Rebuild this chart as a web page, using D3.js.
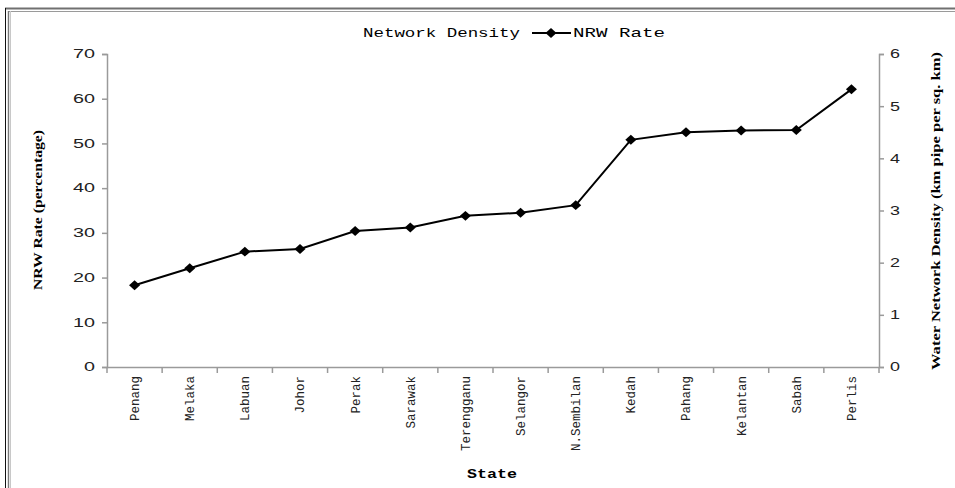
<!DOCTYPE html>
<html>
<head>
<meta charset="utf-8">
<script src="https://cdn.jsdelivr.net/npm/d3@7"></script>
<style>
  body { margin: 0; background: #fff; }
  svg { display: block; }
</style>
</head>
<body>
<div id="chart"></div>
<script>
// data
var states = ["Penang", "Melaka", "Labuan", "Johor", "Perak", "Sarawak", "Terengganu",
  "Selangor", "N.Sembilan", "Kedah", "Pahang", "Kelantan", "Sabah", "Perlis"];
var nrwRate = [18.3, 22.1, 25.8, 26.4, 30.4, 31.2, 33.8, 34.5, 36.2, 50.8, 52.5, 52.9, 53.0, 62.1];
var leftTicks = [0, 10, 20, 30, 40, 50, 60, 70];
var rightTicks = [0, 1, 2, 3, 4, 5, 6];

var W = 955, H = 488;
var plot = { left: 107, right: 879, top: 54, bottom: 367 };
var axisColor = '#9a9a9a';

var svg = d3.select('#chart').append('svg')
  .attr('width', W)
  .attr('height', H);

// frame (double line on top and left)
svg.append('line').attr('x1', 5).attr('y1', 8.5).attr('x2', W).attr('y2', 8.5)
  .attr('stroke', '#707070').attr('stroke-width', 2);
svg.append('line').attr('x1', 9).attr('y1', 11.5).attr('x2', W).attr('y2', 11.5)
  .attr('stroke', '#9a9a9a').attr('stroke-width', 1);
svg.append('line').attr('x1', 5.5).attr('y1', 8).attr('x2', 5.5).attr('y2', H)
  .attr('stroke', '#111').attr('stroke-width', 1);
svg.append('line').attr('x1', 8.5).attr('y1', 11).attr('x2', 8.5).attr('y2', H)
  .attr('stroke', '#777').attr('stroke-width', 1.4);
svg.append('line').attr('x1', 10.5).attr('y1', 11).attr('x2', 10.5).attr('y2', H)
  .attr('stroke', '#c8c8c8').attr('stroke-width', 1);

var x = d3.scaleBand()
  .domain(states)
  .range([plot.left, plot.right]);

var yLeft = d3.scaleLinear().domain([0, 70]).range([plot.bottom, plot.top]);
var yRight = d3.scaleLinear().domain([0, 6]).range([plot.bottom, plot.top]);

function styleAxis(g) {
  g.select('.domain').attr('stroke', axisColor).attr('stroke-width', 1.5);
  g.selectAll('.tick line').attr('stroke', axisColor).attr('stroke-width', 1.5);
}

// left axis
var gl = svg.append('g')
  .attr('transform', 'translate(' + plot.left + ',0)')
  .call(d3.axisLeft(yLeft).tickValues(leftTicks).tickFormat(d3.format('d'))
    .tickSizeOuter(0).tickSize(5).tickPadding(7));
styleAxis(gl);
gl.selectAll('.tick text')
  .attr('font-family', 'Liberation Sans')
  .attr('font-size', 12)
  .attr('fill', '#222')
  .attr('textLength', function(d){ return String(d).length * 11; })
  .attr('lengthAdjust', 'spacingAndGlyphs');

// right axis
var gr = svg.append('g')
  .attr('transform', 'translate(' + plot.right + ',0)')
  .call(d3.axisRight(yRight).tickValues(rightTicks).tickFormat(d3.format('d'))
    .tickSizeOuter(0).tickSize(5).tickPadding(6));
styleAxis(gr);
gr.selectAll('.tick text')
  .attr('font-family', 'Liberation Sans')
  .attr('font-size', 12)
  .attr('fill', '#222')
  .attr('textLength', 10)
  .attr('lengthAdjust', 'spacingAndGlyphs');

// bottom axis: ticks at band boundaries
var gb = svg.append('g')
  .attr('transform', 'translate(0,' + plot.bottom + ')')
  .call(d3.axisBottom(x).tickSize(0).tickSizeOuter(0).tickPadding(0));
gb.select('.domain').attr('stroke', axisColor).attr('stroke-width', 1.5);
gb.selectAll('.tick text')
  .attr('font-family', 'Liberation Mono')
  .attr('font-size', 12.5)
  .attr('fill', '#222')
  .attr('text-anchor', 'end')
  .attr('dy', '0.35em')
  .attr('transform', 'translate(0,9) rotate(-90)');
gb.selectAll('.sep')
  .data(d3.range(states.length + 1))
  .enter().append('line')
  .attr('class', 'sep')
  .attr('x1', function(i){ return plot.left + i * x.step(); })
  .attr('x2', function(i){ return plot.left + i * x.step(); })
  .attr('y1', 0)
  .attr('y2', 6)
  .attr('stroke', axisColor)
  .attr('stroke-width', 1.5);

// NRW rate line
var line = d3.line()
  .x(function(d, i){ return x(states[i]) + x.bandwidth() / 2; })
  .y(function(d){ return yLeft(d); });

svg.append('path')
  .datum(nrwRate)
  .attr('d', line)
  .attr('fill', 'none')
  .attr('stroke', '#000')
  .attr('stroke-width', 2);

var diamond = d3.symbol().type(d3.symbolDiamond2).size(70);

svg.selectAll('.pt')
  .data(nrwRate)
  .enter().append('path')
  .attr('class', 'pt')
  .attr('d', diamond)
  .attr('transform', function(d, i){
    return 'translate(' + (x(states[i]) + x.bandwidth() / 2) + ',' + yLeft(d) + ') scale(1.05,0.95)';
  })
  .attr('fill', '#000');

// axis titles
svg.append('text')
  .attr('transform', 'translate(42,210) rotate(-90)')
  .attr('text-anchor', 'middle')
  .attr('font-family', 'Liberation Serif')
  .attr('font-weight', 'bold')
  .attr('font-size', 13)
  .attr('textLength', 160)
  .attr('lengthAdjust', 'spacingAndGlyphs')
  .text('NRW Rate (percentage)');

svg.append('text')
  .attr('transform', 'translate(940,211) rotate(-90)')
  .attr('text-anchor', 'middle')
  .attr('font-family', 'Liberation Serif')
  .attr('font-weight', 'bold')
  .attr('font-size', 13)
  .attr('textLength', 318)
  .attr('lengthAdjust', 'spacingAndGlyphs')
  .text('Water Network Density (km pipe per sq. km)');

svg.append('text')
  .attr('x', 467)
  .attr('y', 478)
  .attr('font-family', 'Liberation Mono')
  .attr('font-weight', 'bold')
  .attr('font-size', 13)
  .attr('textLength', 50)
  .attr('lengthAdjust', 'spacingAndGlyphs')
  .text('State');

// legend
var legend = svg.append('g');
legend.append('text')
  .attr('x', 363)
  .attr('y', 37)
  .attr('font-family', 'Liberation Mono')
  .attr('font-size', 13)
  .attr('textLength', 157)
  .attr('lengthAdjust', 'spacingAndGlyphs')
  .text('Network Density');
legend.append('line')
  .attr('x1', 532).attr('x2', 571)
  .attr('y1', 33).attr('y2', 33)
  .attr('stroke', '#000').attr('stroke-width', 2);
legend.append('path')
  .attr('d', diamond)
  .attr('transform', 'translate(551,33) scale(1.05,0.95)')
  .attr('fill', '#000');
legend.append('text')
  .attr('x', 573)
  .attr('y', 37)
  .attr('font-family', 'Liberation Mono')
  .attr('font-size', 13)
  .attr('textLength', 92)
  .attr('lengthAdjust', 'spacingAndGlyphs')
  .text('NRW Rate');
</script>
</body>
</html>
